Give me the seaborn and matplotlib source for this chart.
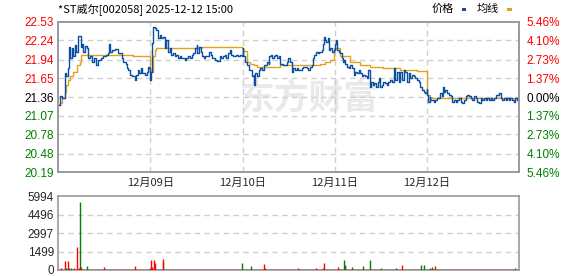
import numpy as np
import pandas as pd
import matplotlib
matplotlib.use("Agg")
import matplotlib.pyplot as plt
from matplotlib.patches import Rectangle
import seaborn as sns

# ---------------- data ----------------
title = "*ST威尔[002058] 2025-12-12 15:00"
day_labels = ["12月09日", "12月10日", "12月11日", "12月12日"]
day_bounds = [241, 482, 723, 964]
prev_close = 21.36

price_ticks = [22.53, 22.24, 21.94, 21.65, 21.36, 21.07, 20.78, 20.48, 20.19]
pct_labels = ["5.46%", "4.10%", "2.73%", "1.37%", "0.00%", "1.37%", "2.73%", "4.10%", "5.46%"]
vol_ticks = [0, 1499, 2997, 4496, 5994]

price_min = [
    0, 5, 10, 17, 21, 25, 29, 31, 36, 40, 44, 47, 51, 58, 59, 62, 66, 71, 75, 78, 84, 88, 95, 98,
    105, 112, 118, 125, 130, 133, 136, 140, 149, 158, 162, 166, 171, 177, 180, 184, 188, 194, 200,
    203, 208, 212, 217, 220, 226, 232, 234, 239, 240,
    242, 246, 248, 253, 257, 261, 266, 270, 274, 279, 283, 288, 292, 296, 301, 305, 309, 314, 318,
    322, 327, 331, 335, 340, 344, 349, 353, 357, 362, 364, 368, 373, 376, 382, 385, 390, 395, 399,
    403, 410, 416, 423, 427, 431, 436, 440, 444, 449, 453, 457, 462, 466, 471, 475, 480,
    482, 484, 489, 493, 498, 502, 506, 511, 512, 515, 519, 524, 528, 532, 537, 541, 545, 550, 552,
    556, 559, 563, 567, 572, 576, 580, 585, 589, 593, 598, 602, 606, 611, 615, 620, 624, 628, 633,
    637, 641, 646, 650, 654, 659, 663, 666, 669, 674, 678, 683, 689, 692, 695, 698, 701, 704, 707,
    711, 715, 720,
    723, 724, 727, 728, 733, 737, 742, 744, 746, 750, 755, 759, 763, 768, 772, 776, 781, 785, 789,
    794, 798, 803, 807, 811, 814, 817, 822, 826, 830, 835, 839, 842, 846, 850, 855, 859, 863, 868,
    872, 877, 881, 885, 890, 894, 898, 903, 907, 911, 916, 920, 924, 929, 933, 938, 942, 946, 951,
    955, 959, 963,
    964, 967, 971, 973, 978, 982, 986, 991, 995, 999, 1004, 1006, 1008, 1012, 1017, 1021, 1026,
    1030, 1034, 1039, 1043, 1047, 1052, 1056, 1060, 1065, 1069, 1073, 1078, 1082, 1087, 1091, 1095,
    1100, 1104, 1108, 1113, 1117, 1121, 1126, 1130, 1134, 1139, 1143, 1147, 1152, 1156, 1160, 1165,
    1169, 1173, 1178, 1182, 1187, 1191, 1195, 1200, 1204,
]
price_val = [
    21.24, 21.37, 21.34, 21.73, 21.68, 21.81, 22.14, 21.96, 22.12, 21.99, 22.17, 22.06, 22.31, 22.31,
    22.14, 22.19, 22.06, 22.16, 22.12, 21.96, 21.99, 21.91, 21.96, 21.86, 21.94, 21.96, 21.99, 22.01,
    22.05, 22.19, 22.06, 22.09, 22.11, 22.05, 22.04, 21.96, 21.91, 21.88, 21.81, 21.78, 21.70, 21.68,
    21.62, 21.70, 21.78, 21.74, 21.81, 21.73, 21.70, 21.75, 21.83, 21.81, 21.62,
    21.75, 22.20, 22.45, 22.43, 22.40, 22.27, 22.32, 22.27, 22.30, 22.12, 22.25, 22.06, 22.12, 22.01,
    22.04, 21.99, 22.01, 21.96, 21.99, 21.96, 21.96, 21.93, 21.96, 21.99, 21.97, 22.01, 22.04, 22.12,
    22.17, 22.04, 22.14, 22.06, 21.99, 21.96, 21.99, 21.99, 22.06, 22.01, 21.96, 21.93, 21.92, 21.99,
    21.96, 21.99, 22.01, 21.96, 22.04, 22.09, 22.01, 21.99, 21.99, 22.01, 21.99, 22.01, 21.99,
    22.12, 21.99, 21.91, 21.86, 21.78, 21.78, 21.68, 21.70, 21.55, 21.73, 21.68, 21.78, 21.81, 21.78,
    21.86, 21.86, 21.91, 21.88, 21.99, 22.01, 21.96, 21.99, 22.01, 21.97, 21.99, 21.88, 21.87, 21.86,
    21.86, 21.91, 21.96, 21.91, 21.75, 21.81, 21.78, 21.81, 21.78, 21.78, 21.81, 21.82, 21.83, 21.81,
    21.78, 21.83, 21.86, 21.96, 22.01, 22.06, 22.04, 22.06, 22.09, 22.19, 22.30, 22.25, 22.22, 22.27,
    22.09, 22.12, 22.06, 22.09,
    22.12, 22.19, 22.25, 22.09, 22.06, 22.04, 21.96, 21.91, 21.94, 21.88, 21.83, 21.81, 21.86, 21.81,
    21.70, 21.75, 21.73, 21.78, 21.73, 21.68, 21.70, 21.68, 21.65, 21.78, 21.52, 21.60, 21.55, 21.57,
    21.52, 21.60, 21.65, 21.52, 21.55, 21.60, 21.57, 21.55, 21.60, 21.62, 21.60, 21.81, 21.62, 21.75,
    21.60, 21.75, 21.62, 21.78, 21.75, 21.60, 21.73, 21.65, 21.70, 21.68, 21.65, 21.62, 21.60, 21.52,
    21.47, 21.44, 21.42, 21.49,
    21.39, 21.29, 21.36, 21.31, 21.32, 21.29, 21.31, 21.34, 21.34, 21.42, 21.37, 21.52, 21.44, 21.47,
    21.42, 21.39, 21.37, 21.29, 21.31, 21.29, 21.31, 21.34, 21.29, 21.26, 21.31, 21.37, 21.39, 21.37,
    21.34, 21.31, 21.37, 21.34, 21.29, 21.26, 21.34, 21.31, 21.34, 21.31, 21.34, 21.31, 21.34, 21.31,
    21.34, 21.39, 21.39, 21.42, 21.34, 21.32, 21.34, 21.31, 21.34, 21.32, 21.34, 21.31, 21.29, 21.34,
    21.31, 21.31,
]

avg_min = [
    0, 5, 10, 18, 21, 26, 31, 40, 49, 58, 60, 193, 197, 240,
    241, 248, 253, 257, 373, 481,
    482, 493, 502, 511, 519, 528, 545, 580, 650, 685, 698, 711, 721,
    722, 737, 763, 789, 816, 850, 894, 938, 963,
    964, 973, 982, 1204,
]
avg_val = [
    21.24, 21.26, 21.34, 21.44, 21.55, 21.62, 21.68, 21.75, 21.86, 21.91, 22.02, 22.01, 22.00, 21.99,
    21.75, 21.99, 22.09, 22.12, 22.13, 22.12,
    22.07, 21.91, 21.88, 21.86, 21.83, 21.82, 21.82, 21.85, 21.86, 21.87, 21.91, 21.94, 21.96,
    22.12, 21.99, 21.91, 21.86, 21.83, 21.81, 21.78, 21.76, 21.75,
    21.39, 21.35, 21.34, 21.34,
]

vol_min = [9, 17, 22, 27, 30, 33, 43, 50, 54, 58, 61, 77, 121, 202, 241, 243, 246, 252, 254, 273,
           275, 481, 505, 537, 540, 626, 673, 693, 695, 732, 746, 750, 751, 769, 796, 814, 845, 882,
           898, 947, 955, 973, 978, 986, 1194]
vol_val = [136, 760, 130, 707, 190, 130, 190, 1850, 130, 5550, 272, 300, 218, 300, 130, 790, 218,
           790, 544, 626, 870, 544, 300, 462, 130, 136, 190, 190, 544, 218, 816, 326, 408, 218, 326,
           816, 136, 136, 408, 408, 408, 163, 245, 326, 136]
vol_up = ["r", "r", "g", "r", "g", "g", "r", "r", "r", "g", "r", "g", "r", "r", "r", "r", "r", "r",
          "r", "g", "r", "g", "g", "r", "r", "r", "r", "r", "r", "r", "g", "r", "g", "g", "g", "g",
          "g", "g", "r", "g", "g", "g", "g", "r", "g"]

# ---------------- style ----------------
sns.set_theme(style="white")
plt.rcParams["font.family"] = ["Noto Sans CJK SC", "DejaVu Sans"]

W, H = 578, 276
fig = plt.figure(figsize=(W / 100, H / 100), dpi=100)
fig.patch.set_facecolor("white")

def fx(px):
    return px / W

def fy(py):
    return 1 - py / H

L, R = 58.0, 519.3
ax = fig.add_axes([fx(L), fy(172.3), fx(R - L), (172.3 - 21.7) / H])
axv = fig.add_axes([fx(L), fy(270.0), fx(R - L), (270.0 - 196.4) / H])

RED = "#ff0000"
GREEN = "#008000"
BLUE = "#0b4fa3"
GOLD = "#e0a21e"
GRID = "#cfcfcf"
FRAME = "#9a9a9a"

XMAX = 1205

# watermark
ax.text(0.545, 0.49, "东方财富", transform=ax.transAxes, fontsize=25, fontweight="bold",
        color="#e9e9ec", ha="center", va="center", zorder=0)

price_df = pd.DataFrame({"minute": price_min, "price": price_val})
avg_df = pd.DataFrame({"minute": avg_min, "avg": avg_val})

sns.lineplot(data=avg_df, x="minute", y="avg", ax=ax, color=GOLD, linewidth=1.0,
             drawstyle="steps-post", zorder=3, legend=False)
sns.lineplot(data=price_df, x="minute", y="price", ax=ax, color=BLUE, linewidth=1.0,
             drawstyle="steps-post", zorder=4, legend=False)

ax.set_xlim(0, XMAX)
ax.set_ylim(price_ticks[-1], price_ticks[0])
for yv in price_ticks[1:-1]:
    ax.axhline(yv, color=GRID, linewidth=1, linestyle=(0, (4, 3)), zorder=1)
for xv in day_bounds:
    ax.axvline(xv, color=GRID, linewidth=1, linestyle=(0, (4, 3)), zorder=1)

ax.set_xlabel("")
ax.set_ylabel("")
ax.set_yticks(price_ticks)
ax.set_yticklabels([f"{v:.2f}" for v in price_ticks], fontsize=8.5, family="Liberation Sans")
for i, t in enumerate(ax.get_yticklabels()):
    t.set_color(RED if i < 4 else ("black" if i == 4 else GREEN))
ax.set_xticks(day_bounds)
ax.set_xticklabels(day_labels, fontsize=8)
ax.tick_params(axis="both", length=0, pad=3)
ax.tick_params(axis="x", pad=4)

ax2 = ax.twinx()
ax2.set_ylim(ax.get_ylim())
ax2.set_yticks(price_ticks)
ax2.set_yticklabels(pct_labels, fontsize=8.5, family="Liberation Sans")
for i, t in enumerate(ax2.get_yticklabels()):
    t.set_color(RED if i < 4 else ("black" if i == 4 else GREEN))
ax2.tick_params(axis="y", length=0, pad=5)
ax2.grid(False)

for a in (ax, ax2, axv):
    for s in a.spines.values():
        s.set_color(FRAME)
        s.set_linewidth(1.2)

# volume
vol_df = pd.DataFrame({"minute": vol_min, "vol": vol_val, "dir": vol_up})
cols = [RED if d == "r" else GREEN for d in vol_df["dir"]]
axv.vlines(vol_df["minute"], 0, vol_df["vol"], colors=cols, linewidth=1.0, zorder=3)
axv.axhline(0, color=RED, linewidth=1.2, zorder=2)
axv.set_xlim(0, XMAX)
axv.set_ylim(0, vol_ticks[-1])
for yv in vol_ticks[1:-1]:
    axv.axhline(yv, color=GRID, linewidth=1, linestyle=(0, (4, 3)), zorder=1)
axv.set_yticks(vol_ticks)
axv.set_yticklabels([str(v) for v in vol_ticks], fontsize=8.5, family="Liberation Sans")
axv.set_xticks([])
axv.tick_params(axis="y", length=0, pad=3)

# title and legend
fig.text(fx(58), fy(9), title, fontsize=8, ha="left", va="center", color="black")
fig.text(fx(432), fy(9), "价格", fontsize=8, ha="left", va="center", color="black")
fig.patches.append(Rectangle((fx(461.5), fy(11)), 4 / W, 3.5 / H, transform=fig.transFigure,
                             facecolor=BLUE, edgecolor="none"))
fig.text(fx(477), fy(9), "均线", fontsize=8, ha="left", va="center", color="black")
fig.patches.append(Rectangle((fx(507), fy(11)), 5 / W, 3 / H, transform=fig.transFigure,
                             facecolor=GOLD, edgecolor="none"))

fig.savefig("out.png", dpi=100, facecolor="white")
